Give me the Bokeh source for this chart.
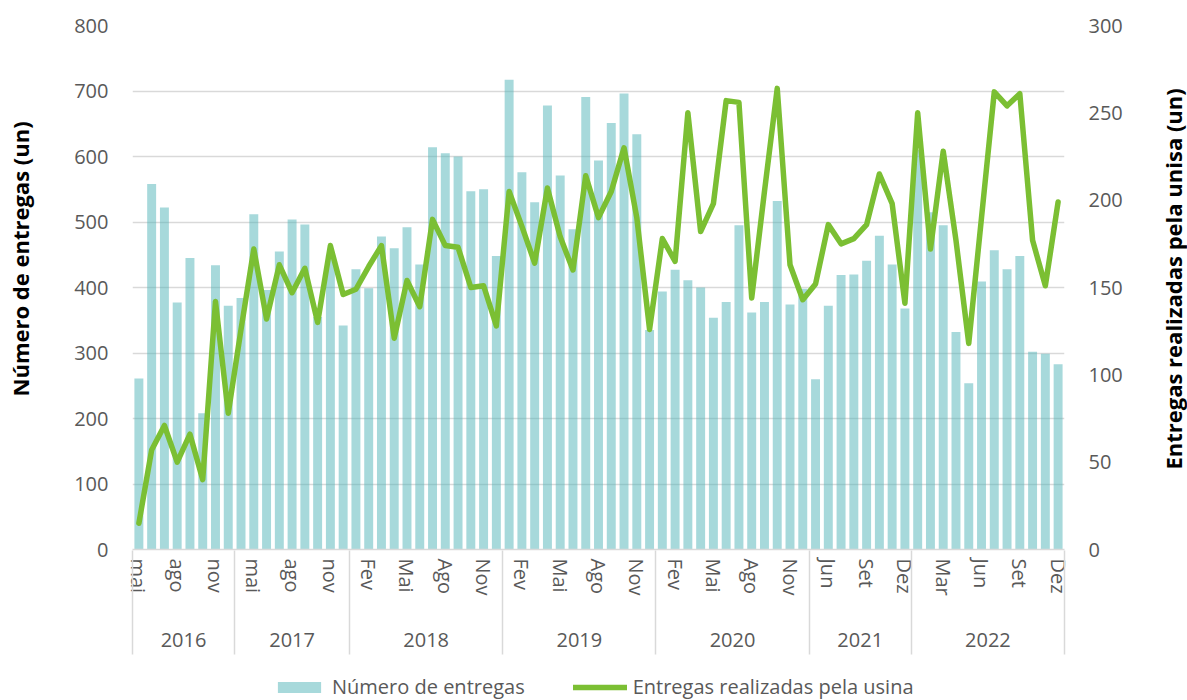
import math
from bokeh.plotting import figure
from bokeh.layouts import column, row
from bokeh.models import (Range1d, LinearAxis, Legend, LegendItem,
                          ColumnDataSource, FixedTicker)
from bokeh.embed import file_html
from bokeh.resources import INLINE

# ---------------- data ----------------
years = ["2016", "2017", "2018", "2019", "2020", "2021", "2022"]
months_2016 = ["mai", "jun", "jul", "ago", "set", "out", "nov", "dez"]
months_2017 = ["abr", "mai", "jun", "jul", "ago", "set", "out", "nov", "dez"]
months_2018 = ["Jan", "Fev", "Mar", "Abr", "Mai", "Jun", "Jul", "Ago", "Set", "Out", "Nov", "Dez"]
months_2019 = ["Jan", "Fev", "Mar", "Abr", "Mai", "Jun", "Jul", "Ago", "Set", "Out", "Nov", "Dez"]
months_2020 = ["Jan", "Fev", "Mar", "Abr", "Mai", "Jun", "Jul", "Ago", "Set", "Out", "Nov", "Dez"]
months_2021 = ["Mai", "Jun", "Jul", "Ago", "Set", "Out", "Nov", "Dez"]
months_2022 = ["Jan", "Fev", "Mar", "Abr", "Mai", "Jun", "Jul", "Ago", "Set", "Out", "Nov", "Dez"]
months_by_year = [months_2016, months_2017, months_2018, months_2019,
                  months_2020, months_2021, months_2022]

numero_entregas = [
    261, 558, 522, 377, 445, 208, 434, 372,                 # 2016
    384, 512, 396, 455, 504, 496, 355, 450, 342,            # 2017
    428, 399, 478, 460, 492, 435, 614, 605, 600, 547, 550, 448,   # 2018
    717, 576, 530, 678, 571, 489, 691, 594, 651, 696, 634, 335,   # 2019
    394, 427, 411, 400, 354, 378, 495, 362, 378, 532, 374, 398,   # 2020
    260, 372, 419, 420, 441, 479, 435, 368,                 # 2021
    610, 515, 495, 332, 254, 409, 457, 428, 448, 302, 299, 283,   # 2022
]

entregas_usina = [
    15, 57, 71, 50, 66, 40, 142, 78,                        # 2016
    126, 172, 132, 163, 147, 161, 130, 174, 146,            # 2017
    149, 162, 174, 121, 154, 139, 189, 174, 173, 150, 151, 128,   # 2018
    205, 185, 164, 207, 179, 160, 214, 190, 205, 230, 190, 126,   # 2019
    178, 165, 250, 182, 198, 257, 256, 144, 205, 264, 163, 143,   # 2020
    152, 186, 175, 178, 186, 215, 198, 141,                 # 2021
    250, 172, 228, 177, 118, 190, 262, 254, 261, 177, 151, 199,   # 2022
]

left_ticks = [0, 100, 200, 300, 400, 500, 600, 700, 800]
right_ticks = [0, 50, 100, 150, 200, 250, 300]
month_label_step = 3
series_names = ["Número de entregas", "Entregas realizadas pela usina"]
left_title = "Número de entregas (un)"
right_title = "Entregas realizadas pela unisa (un)"

# ------------- positions built from the category lists -------------
month_names = [m for ml in months_by_year for m in ml]
xpos = list(range(len(month_names)))
month_ticks = xpos[::month_label_step]
month_overrides = {t: month_names[t] for t in month_ticks}

year_centers, boundaries = [], [-0.5]
start = 0
for yr, ml in zip(years, months_by_year):
    year_centers.append(start + (len(ml) - 1) / 2)
    start += len(ml)
    boundaries.append(start - 0.5)
year_overrides = {c: y for c, y in zip(year_centers, years)}

src = ColumnDataSource(data=dict(x=xpos, bars=numero_entregas, line=entregas_usina))

FONT = "Open Sans"
GREY = "#595959"
AXIS_GREY = "#D9D9D9"
BAR_KW = dict(fill_color="#4FB3B7", fill_alpha=0.5, line_color=None)
LINE_KW = dict(line_color="#7BBF33", line_width=5.5, line_join="round", line_cap="round")

W_MAIN = 1155
W_TITLE = 32
H_MAIN = 656
H_LEG = 44

p = figure(width=W_MAIN, height=H_MAIN,
           x_range=Range1d(-0.5, len(xpos) - 0.5),
           y_range=Range1d(0, 800),
           output_backend="svg", toolbar_location=None,
           min_border_left=132, min_border_right=91, min_border_top=25, min_border_bottom=107)
p.outline_line_color = None
p.extra_y_ranges = {"right": Range1d(0, 300)}

p.xgrid.grid_line_color = None
p.ygrid.grid_line_color = AXIS_GREY
p.ygrid.grid_line_width = 1.3

bars = p.vbar(x="x", top="bars", width=0.7, source=src, **BAR_KW)
ln = p.line(x="x", y="line", source=src, y_range_name="right", **LINE_KW)

def style_value_axis(ax):
    ax.axis_line_color = None
    ax.major_tick_line_color = None
    ax.minor_tick_line_color = None
    ax.major_tick_out = 0
    ax.major_tick_in = 0
    ax.major_label_standoff = 24
    ax.major_label_text_font = FONT
    ax.major_label_text_font_size = "20px"
    ax.major_label_text_color = GREY
    ax.axis_label_text_font = FONT
    ax.axis_label_text_font_size = "22px"
    ax.axis_label_text_font_style = "bold"
    ax.axis_label_text_color = "black"

# left axis (title sits a little above the plot centre, as in the original)
la = p.yaxis[0]
la.ticker = FixedTicker(ticks=left_ticks)
style_value_axis(la)
la.axis_label = "\u00a0" * 10 + left_title
la.axis_label_standoff = 36

# right axis (values only; its title is drawn in the narrow strip at the right)
ra = LinearAxis(y_range_name="right", ticker=FixedTicker(ticks=right_ticks))
style_value_axis(ra)
p.add_layout(ra, "right")

# month axis (closest to the plot)
xa = p.xaxis[0]
xa.ticker = FixedTicker(ticks=month_ticks)
xa.major_label_overrides = month_overrides
xa.axis_line_color = AXIS_GREY
xa.axis_line_width = 1.5
xa.major_tick_line_color = None
xa.minor_tick_line_color = None
xa.major_tick_out = 0
xa.major_tick_in = 0
xa.major_label_orientation = "vertical"
xa.major_label_standoff = 9
xa.major_label_text_font = FONT
xa.major_label_text_font_size = "20px"
xa.major_label_text_color = GREY

# year axis: labels at year centres, year separators as minor ticks
ya = LinearAxis(ticker=FixedTicker(ticks=year_centers, minor_ticks=boundaries),
                major_label_overrides=year_overrides)
ya.axis_line_color = None
ya.major_tick_line_color = None
ya.major_tick_out = 0
ya.major_tick_in = 0
ya.minor_tick_line_color = AXIS_GREY
ya.minor_tick_line_width = 1.5
ya.minor_tick_in = 48
ya.minor_tick_out = 56
ya.major_label_standoff = -22
ya.major_label_text_font = FONT
ya.major_label_text_font_size = "20px"
ya.major_label_text_color = GREY
p.add_layout(ya, "below")

# narrow strip carrying the right-hand axis title (reads bottom-to-top)
pt = figure(width=W_TITLE, height=H_MAIN, x_range=Range1d(0, 1), y_range=Range1d(0, 300),
            output_backend="svg", toolbar_location=None,
            x_axis_location=None, y_axis_location="left",
            min_border_left=0, min_border_right=0, min_border_top=25, min_border_bottom=107)
pt.outline_line_color = None
pt.grid.visible = False
ta = pt.yaxis[0]
ta.ticker = FixedTicker(ticks=[])
style_value_axis(ta)
ta.major_label_standoff = 0
ta.axis_label = "\u00a0" * 3 + right_title
ta.axis_label_standoff = 0

# legend strip below the chart (legend glyphs come from hidden renderers of the same data)
pl = figure(width=W_MAIN + W_TITLE, height=H_LEG, x_range=Range1d(0, 1), y_range=Range1d(0, 1),
            output_backend="svg", toolbar_location=None,
            x_axis_location=None, y_axis_location=None,
            min_border_left=132, min_border_right=W_MAIN + W_TITLE - 1064,
            min_border_top=0, min_border_bottom=0)
pl.outline_line_color = None
pl.grid.visible = False
leg_bar = pl.vbar(x="x", top="bars", width=0.7, source=src, visible=False, **BAR_KW)
leg_line = pl.line(x="x", y="line", source=src, visible=False, **LINE_KW)
legend = Legend(items=[LegendItem(label=series_names[0], renderers=[leg_bar]),
                       LegendItem(label=series_names[1], renderers=[leg_line])],
                orientation="horizontal", location=(140, 0),
                glyph_width=54, glyph_height=14, label_standoff=6, spacing=48,
                label_text_font=FONT, label_text_font_size="20px",
                label_text_color=GREY, padding=0, margin=0,
                inactive_fill_alpha=0,
                border_line_color=None, background_fill_alpha=0)
pl.add_layout(legend)

layout = column(row(p, pt, spacing=0), pl, spacing=0)
open("out.html", "w").write(file_html(layout, INLINE))
